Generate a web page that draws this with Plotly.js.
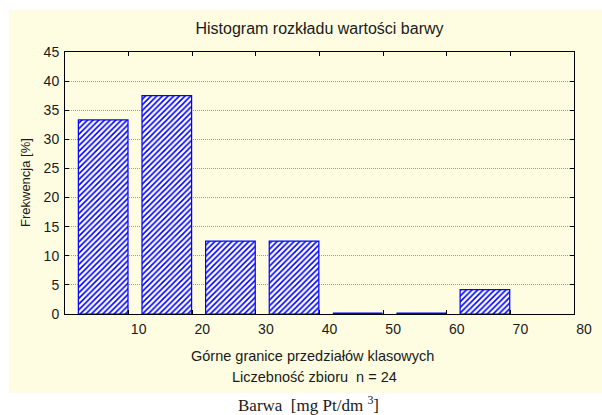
<!DOCTYPE html>
<html>
<head>
<meta charset="utf-8">
<script src="https://cdn.plot.ly/plotly-3.0.1.min.js"></script>
<style>
  html, body { margin: 0; padding: 0; background: #ffffff; }
  #chart { width: 602px; height: 415px; }
</style>
</head>
<body>
<div id="chart"></div>
<script>
// Upper class bounds and bin centres (units: mg Pt/dm3)
const binCenters = [6, 16, 26, 36, 46, 56, 66];
const binWidth = 7.8;
// Frequency [%] of each class (n = 24)
const frequencies = [33.33, 37.5, 12.5, 12.5, 0, 0, 4.17];
const xTickVals = [10, 20, 30, 40, 50, 60, 70, 80];
const yTickVals = [0, 5, 10, 15, 20, 25, 30, 35, 40, 45];

const titleText = 'Histogram rozkładu wartości barwy';
const yTitle = 'Frekwencja [%]';
const xTitle1 = 'Górne granice przedziałów klasowych';
const xTitle2 = 'Liczebność zbioru  n = 24';
const bottomLabel = 'Barwa  [mg Pt/dm <sup>3</sup>]';

const BLUE = '#0000ff';
const SANS = '"Liberation Sans", Arial, sans-serif';

// zero-height classes drawn as a thin line at the baseline
const zx = [], zy = [];
binCenters.forEach((c, i) => {
  if (frequencies[i] === 0) {
    zx.push(c - binWidth / 2, c + binWidth / 2, null);
    zy.push(0, 0, null);
  }
});

const traces = [
  {
    type: 'bar',
    x: binCenters,
    y: frequencies,
    width: binWidth,
    marker: {
      color: '#ffffff',
      line: { color: BLUE, width: 1.2 },
      pattern: { shape: '/', fgcolor: BLUE, bgcolor: '#ffffff', size: 4, solidity: 0.4 }
    },
    hoverinfo: 'x+y',
    showlegend: false
  },
  {
    type: 'scatter',
    mode: 'lines',
    x: zx,
    y: zy,
    line: { color: BLUE, width: 3 },
    cliponaxis: false,
    hoverinfo: 'skip',
    showlegend: false
  }
];

const layout = {
  width: 602,
  height: 415,
  margin: { l: 65, r: 28, t: 52, b: 101 },
  paper_bgcolor: '#ffffff',
  plot_bgcolor: '#ffffff',
  font: { family: SANS, size: 14, color: '#1a1a1a' },
  showlegend: false,
  title: {
    text: titleText,
    font: { family: SANS, size: 16, color: '#1a1a1a' },
    xref: 'paper', x: 0.5, xanchor: 'center',
    yref: 'container', y: 1 - 28 / 415, yanchor: 'middle'
  },
  xaxis: {
    range: [0, 80],
    tickmode: 'array',
    tickvals: xTickVals,
    ticktext: xTickVals.map(String),
    ticks: 'inside', ticklen: 4, tickcolor: '#000',
    showline: true, linecolor: '#000', linewidth: 1, mirror: 'ticks',
    showgrid: false, zeroline: false,
    ticklabelshift: 10,
    ticklabelstandoff: 2,
    tickfont: { family: SANS, size: 14, color: '#1a1a1a' },
    fixedrange: true
  },
  yaxis: {
    range: [0, 45],
    tickmode: 'array',
    tickvals: yTickVals,
    ticks: 'inside', ticklen: 4, tickcolor: '#000',
    showline: true, linecolor: '#000', linewidth: 1, mirror: 'ticks',
    showgrid: true, gridcolor: '#9c9c9c', griddash: '1px,1px', gridwidth: 1,
    zeroline: false,
    ticklabelstandoff: 2,
    tickfont: { family: SANS, size: 14, color: '#1a1a1a' },
    fixedrange: true
  },
  shapes: [
    {
      type: 'rect', layer: 'below',
      xref: 'paper', yref: 'paper',
      x0: (9 - 65) / 509, x1: (602 - 65) / 509,
      y0: (314 - 393) / 262, y1: (314 - 10) / 262,
      fillcolor: '#fefde1', line: { width: 0 }
    }
  ],
  annotations: [
    {
      text: yTitle, textangle: -90,
      xref: 'paper', yref: 'paper',
      x: (25 - 65) / 509, y: 0.5, xanchor: 'center', yanchor: 'middle',
      showarrow: false, font: { family: SANS, size: 13, color: '#1a1a1a' }
    },
    {
      text: xTitle1,
      xref: 'paper', yref: 'paper',
      x: (312 - 65) / 509, y: (314 - 356) / 262, xanchor: 'center', yanchor: 'middle',
      showarrow: false, font: { family: SANS, size: 14.5, color: '#1a1a1a' }
    },
    {
      text: xTitle2,
      xref: 'paper', yref: 'paper',
      x: (314 - 65) / 509, y: (314 - 377) / 262, xanchor: 'center', yanchor: 'middle',
      showarrow: false, font: { family: SANS, size: 14.5, color: '#1a1a1a' }
    },
    {
      text: bottomLabel,
      xref: 'paper', yref: 'paper',
      x: (308 - 65) / 509, y: (314 - 404) / 262, xanchor: 'center', yanchor: 'middle',
      showarrow: false, font: { family: '"Liberation Serif", "Times New Roman", serif', size: 17, color: '#1a1a1a' }
    }
  ]
};

Plotly.newPlot('chart', traces, layout, { displayModeBar: false, staticPlot: true });
</script>
</body>
</html>
